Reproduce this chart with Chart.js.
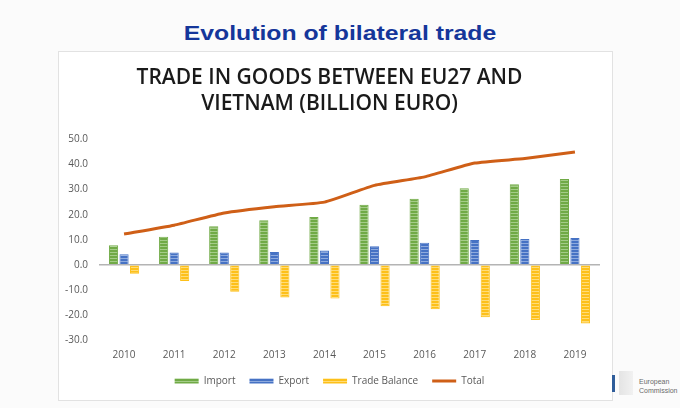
<!DOCTYPE html>
<html>
<head>
<meta charset="utf-8">
<script src="https://cdn.jsdelivr.net/npm/chart.js@4"></script>
<style>
  body { margin: 0; width: 680px; height: 408px; background: #fbfbfb; position: relative; overflow: hidden; font-family: "Liberation Sans", Arial, sans-serif; }
  .heading { position: absolute; left: 0; width: 680px; top: 21px; text-align: center; font-weight: bold; font-size: 21px; color: #15369a; transform: scaleX(1.18); }
  .box { position: absolute; left: 58px; top: 51px; width: 553px; height: 348px; background: #fff; border: 1px solid #e2e2e2; }
  .box canvas { position: absolute; left: 0; top: 0; }
  .ec-bar { position: absolute; left: 612px; top: 375px; width: 3px; height: 17px; background: #2f5d9a; }
  .ec-logo { position: absolute; left: 619px; top: 371px; width: 14px; height: 24px; background: linear-gradient(90deg, #e4e4e4, #f1f1f1); }
  .ec-text { position: absolute; left: 639px; top: 377px; font-size: 7px; line-height: 9px; color: #6a6a6a; }
</style>
</head>
<body>
<div class="heading">Evolution of bilateral trade</div>
<div class="box"><canvas id="trade" width="553" height="348"></canvas></div>
<div class="ec-bar"></div>
<div class="ec-logo"></div>
<div class="ec-text">European<br>Commission</div>
<script>
const years = ['2010', '2011', '2012', '2013', '2014', '2015', '2016', '2017', '2018', '2019'];
const imports = [7.8, 11.2, 15.4, 17.8, 19.1, 24.0, 26.4, 30.5, 32.1, 34.2];
const exports = [4.2, 4.9, 4.9, 5.1, 5.7, 7.4, 8.8, 9.9, 10.3, 10.7];
const tradeBalance = [-3.6, -6.5, -10.7, -13.0, -13.4, -16.5, -17.7, -20.9, -22.0, -23.4];
const total = [12.3, 15.8, 20.7, 23.2, 25.0, 31.7, 35.1, 40.6, 42.4, 45.0];

// striped fill like the office chart texture
function stripes(base, light) {
    const c = document.createElement('canvas');
    c.width = 4; c.height = 3;
    const g = c.getContext('2d');
    g.fillStyle = base;
    g.fillRect(0, 0, 4, 3);
    g.fillStyle = light;
    g.fillRect(0, 2, 4, 1);
    return g.createPattern(c, 'repeat');
}

const greenFill = stripes('#70aa46', '#a4cc88');
const blueFill = stripes('#4672c4', '#8eaadd');
const yellowFill = stripes('#fdc01a', '#ffdc78');

new Chart(document.getElementById('trade'), {
    data: {
        labels: years,
        datasets: [
            {
                type: 'line',
                label: 'Total',
                data: total,
                borderColor: '#cf5f17',
                backgroundColor: '#cf5f17',
                borderWidth: 3,
                pointRadius: 0,
                tension: 0.15,
                order: 0
            },
            {
                type: 'bar',
                label: 'Import',
                data: imports,
                backgroundColor: greenFill,
                borderColor: '#70aa46',
                borderWidth: 1,
                order: 1
            },
            {
                type: 'bar',
                label: 'Export',
                data: exports,
                backgroundColor: blueFill,
                borderColor: '#4672c4',
                borderWidth: 1,
                order: 1
            },
            {
                type: 'bar',
                label: 'Trade Balance',
                data: tradeBalance,
                backgroundColor: yellowFill,
                borderColor: '#fdc01a',
                borderWidth: 1,
                order: 1
            }
        ]
    },
    options: {
        responsive: false,
        animation: false,
        layout: { padding: { left: 0, right: 12, top: 0, bottom: 4 } },
        datasets: {
            bar: { categoryPercentage: 0.63, barPercentage: 0.87 }
        },
        scales: {
            x: {
                grid: { display: false },
                border: { display: false },
                ticks: { color: '#595959', font: { family: 'Open Sans', size: 10 }, padding: 1 }
            },
            y: {
                min: -30,
                max: 50,
                afterFit: scale => { scale.width = 40; },
                border: { display: false },
                grid: {
                    drawTicks: false,
                    lineWidth: 1.5,
                    color: ctx => ctx.tick && ctx.tick.value === 0 ? '#b4b4b4' : 'rgba(0,0,0,0)'
                },
                ticks: {
                    stepSize: 10,
                    padding: 11,
                    color: '#595959',
                    font: { family: 'Open Sans', size: 10 },
                    callback: v => v.toFixed(1)
                }
            }
        },
        plugins: {
            title: {
                display: true,
                text: ['TRADE IN GOODS BETWEEN EU27 AND', 'VIETNAM (BILLION EURO)'],
                color: '#1a1a1a',
                font: { family: 'Open Sans', size: 21, weight: '600', lineHeight: 1.25 },
                padding: { top: 13, bottom: 22 }
            },
            legend: {
                position: 'bottom',
                labels: {
                    usePointStyle: true,
                    pointStyleWidth: 24,
                    boxHeight: 5,
                    padding: 14,
                    color: '#595959',
                    font: { family: 'Open Sans', size: 10 },
                    sort: (a, b) => (a.datasetIndex === 0) - (b.datasetIndex === 0) || a.datasetIndex - b.datasetIndex,
                    generateLabels: chart => Chart.defaults.plugins.legend.labels.generateLabels(chart).map(item => {
                        item.pointStyle = item.datasetIndex === 0 ? 'line' : 'rect';
                        if (item.datasetIndex !== 0) item.lineWidth = 0;
                        return item;
                    })
                }
            },
            tooltip: { enabled: false }
        }
    }
});
</script>
</body>
</html>
